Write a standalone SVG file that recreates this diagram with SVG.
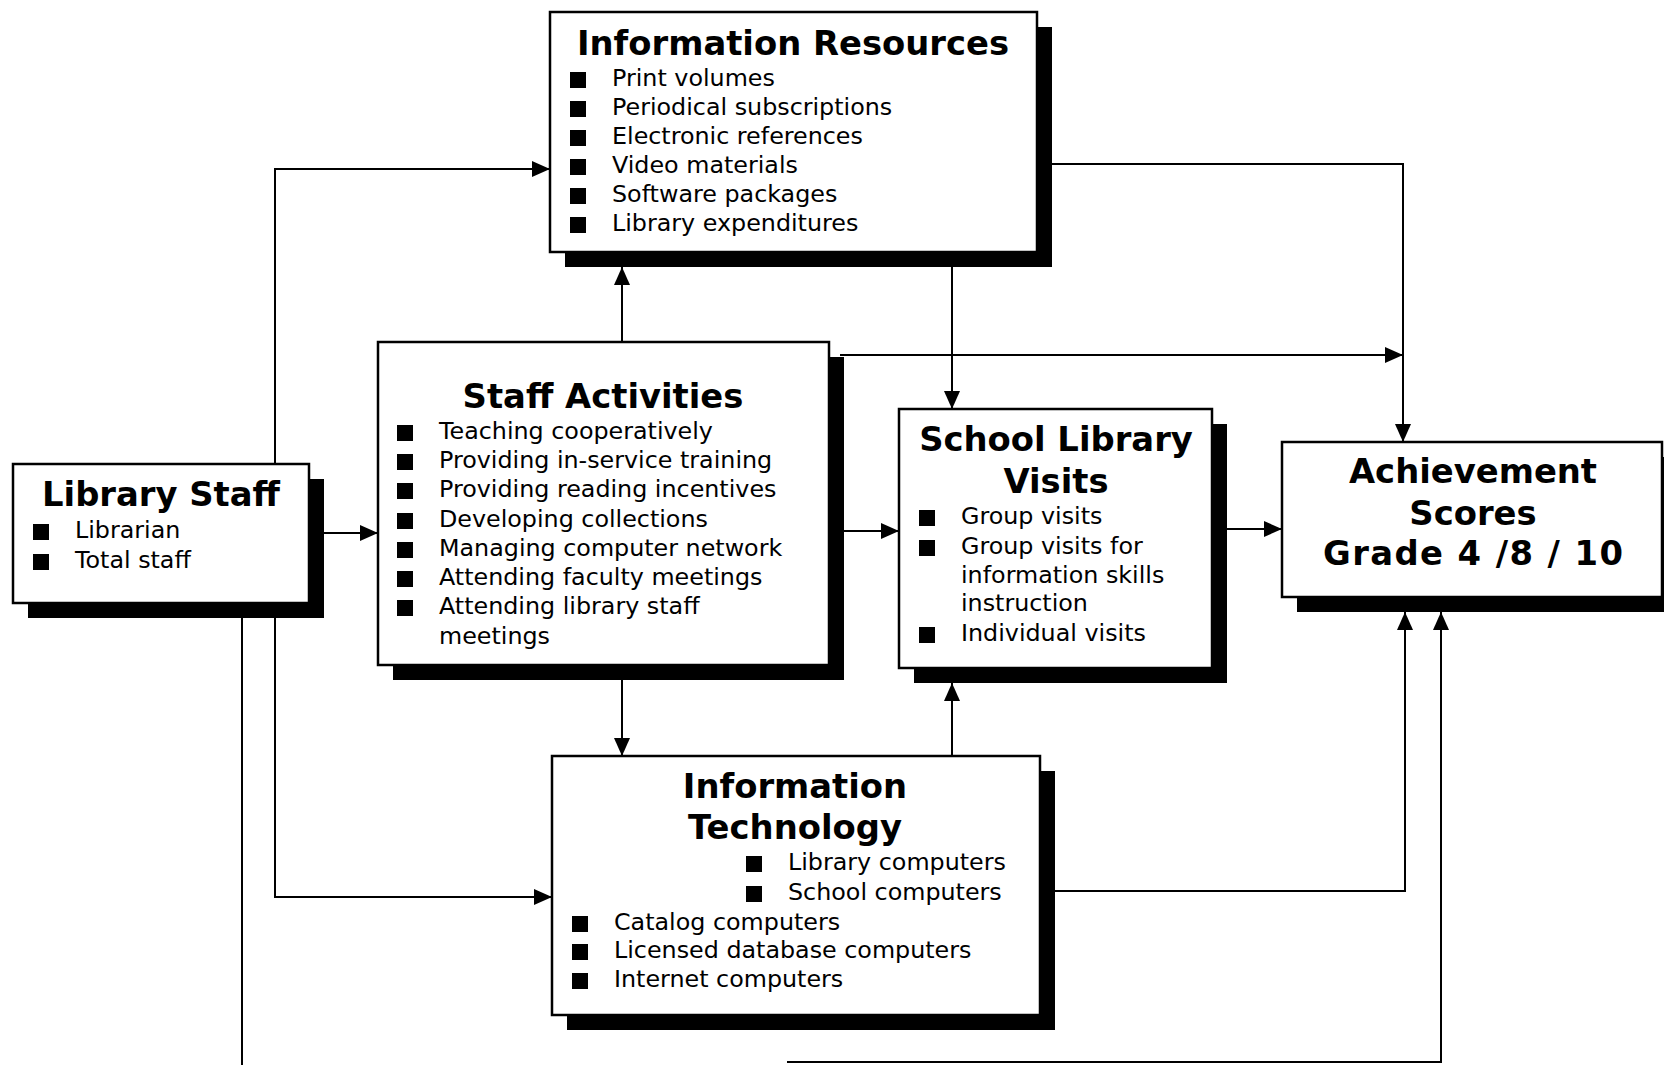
<svg xmlns="http://www.w3.org/2000/svg" width="1664" height="1065" viewBox="0 0 1664 1065">
  <style>
    .shadow { fill: #000; }
    .box { fill: #fff; stroke: #000; stroke-width: 2.5; }
    .title { font-family: "DejaVu Sans", Verdana, sans-serif; font-weight: bold; font-size: 33.8px; fill: #000; text-anchor: middle; }
    .item { font-family: "DejaVu Sans", Verdana, sans-serif; font-size: 23.8px; fill: #000; }
    .link { fill: none; stroke: #000; stroke-width: 2; marker-end: url(#arrow); }
  </style>
  <defs>
    <marker id="arrow" viewBox="0 0 18 16" refX="18" refY="8" markerWidth="18" markerHeight="16" orient="auto" markerUnits="userSpaceOnUse">
      <path d="M0,0 L18,8 L0,16 z" fill="#000"/>
    </marker>
    <rect id="bullet" x="0" y="-14" width="16" height="16" fill="#000"/>
  </defs>
  <rect width="1664" height="1065" fill="#fff"/>

  <g id="connectors">
    <path class="link" d="M275,470 V169 H550"/>
    <path class="link" d="M320,533 H378"/>
    <path class="link" d="M275,610 V897 H552"/>
    <path class="link" d="M242,610 V1065 M787,1062 H1441 V612"/>
    <path class="link" d="M622,350 V267"/>
    <path class="link" d="M622,670 V756"/>
    <path class="link" d="M840,531 H899"/>
    <path class="link" d="M840,355 H1403"/>
    <path class="link" d="M1045,164 H1403 V442"/>
    <path class="link" d="M952,260 V409"/>
    <path class="link" d="M952,760 V683"/>
    <path class="link" d="M1222,529 H1282"/>
    <path class="link" d="M1045,891 H1405 V612"/>
  </g>

  <g id="information-resources">
    <rect class="shadow" x="565" y="27" width="487" height="240"/>
    <rect class="box" x="550" y="12" width="487" height="240"/>
    <text class="title" x="793" y="55">Information Resources</text>
    <use href="#bullet" x="570" y="86"/><text class="item" x="612" y="86">Print volumes</text>
    <use href="#bullet" x="570" y="115"/><text class="item" x="612" y="115">Periodical subscriptions</text>
    <use href="#bullet" x="570" y="144"/><text class="item" x="612" y="144">Electronic references</text>
    <use href="#bullet" x="570" y="173"/><text class="item" x="612" y="173">Video materials</text>
    <use href="#bullet" x="570" y="202"/><text class="item" x="612" y="202">Software packages</text>
    <use href="#bullet" x="570" y="231"/><text class="item" x="612" y="231">Library expenditures</text>
  </g>

  <g id="library-staff">
    <rect class="shadow" x="28" y="479" width="296" height="139"/>
    <rect class="box" x="13" y="464" width="296" height="139"/>
    <text class="title" x="161" y="506">Library Staff</text>
    <use href="#bullet" x="33" y="538"/><text class="item" x="75" y="538">Librarian</text>
    <use href="#bullet" x="33" y="568"/><text class="item" x="75" y="568">Total staff</text>
  </g>

  <g id="staff-activities">
    <rect class="shadow" x="393" y="357" width="451" height="323"/>
    <rect class="box" x="378" y="342" width="451" height="323"/>
    <text class="title" x="603" y="408">Staff Activities</text>
    <use href="#bullet" x="397" y="439"/><text class="item" x="439" y="439">Teaching cooperatively</text>
    <use href="#bullet" x="397" y="468"/><text class="item" x="439" y="468">Providing in-service training</text>
    <use href="#bullet" x="397" y="497"/><text class="item" x="439" y="497">Providing reading incentives</text>
    <use href="#bullet" x="397" y="527"/><text class="item" x="439" y="527">Developing collections</text>
    <use href="#bullet" x="397" y="556"/><text class="item" x="439" y="556">Managing computer network</text>
    <use href="#bullet" x="397" y="585"/><text class="item" x="439" y="585">Attending faculty meetings</text>
    <use href="#bullet" x="397" y="614"/><text class="item" x="439" y="614">Attending library staff</text>
    <text class="item" x="439" y="644">meetings</text>
  </g>

  <g id="school-library-visits">
    <rect class="shadow" x="914" y="424" width="313" height="259"/>
    <rect class="box" x="899" y="409" width="313" height="259"/>
    <text class="title" x="1056" y="451">School Library</text>
    <text class="title" x="1056" y="493">Visits</text>
    <use href="#bullet" x="919" y="524"/><text class="item" x="961" y="524">Group visits</text>
    <use href="#bullet" x="919" y="554"/><text class="item" x="961" y="554">Group visits for</text>
    <text class="item" x="961" y="583">information skills</text>
    <text class="item" x="961" y="611">instruction</text>
    <use href="#bullet" x="919" y="641"/><text class="item" x="961" y="641">Individual visits</text>
  </g>

  <g id="achievement-scores">
    <rect class="shadow" x="1297" y="457" width="380" height="155"/>
    <rect class="box" x="1282" y="442" width="380" height="155"/>
    <text class="title" x="1473" y="483">Achievement</text>
    <text class="title" x="1473" y="525">Scores</text>
    <text class="title" x="1473" y="565" textLength="300" lengthAdjust="spacing">Grade 4 /8 / 10</text>
  </g>

  <g id="information-technology">
    <rect class="shadow" x="567" y="771" width="488" height="259"/>
    <rect class="box" x="552" y="756" width="488" height="259"/>
    <text class="title" x="795" y="798">Information</text>
    <text class="title" x="795" y="839">Technology</text>
    <use href="#bullet" x="746" y="870"/><text class="item" x="788" y="870">Library computers</text>
    <use href="#bullet" x="746" y="900"/><text class="item" x="788" y="900">School computers</text>
    <use href="#bullet" x="572" y="930"/><text class="item" x="614" y="930">Catalog computers</text>
    <use href="#bullet" x="572" y="958"/><text class="item" x="614" y="958">Licensed database computers</text>
    <use href="#bullet" x="572" y="987"/><text class="item" x="614" y="987">Internet computers</text>
  </g>
</svg>
